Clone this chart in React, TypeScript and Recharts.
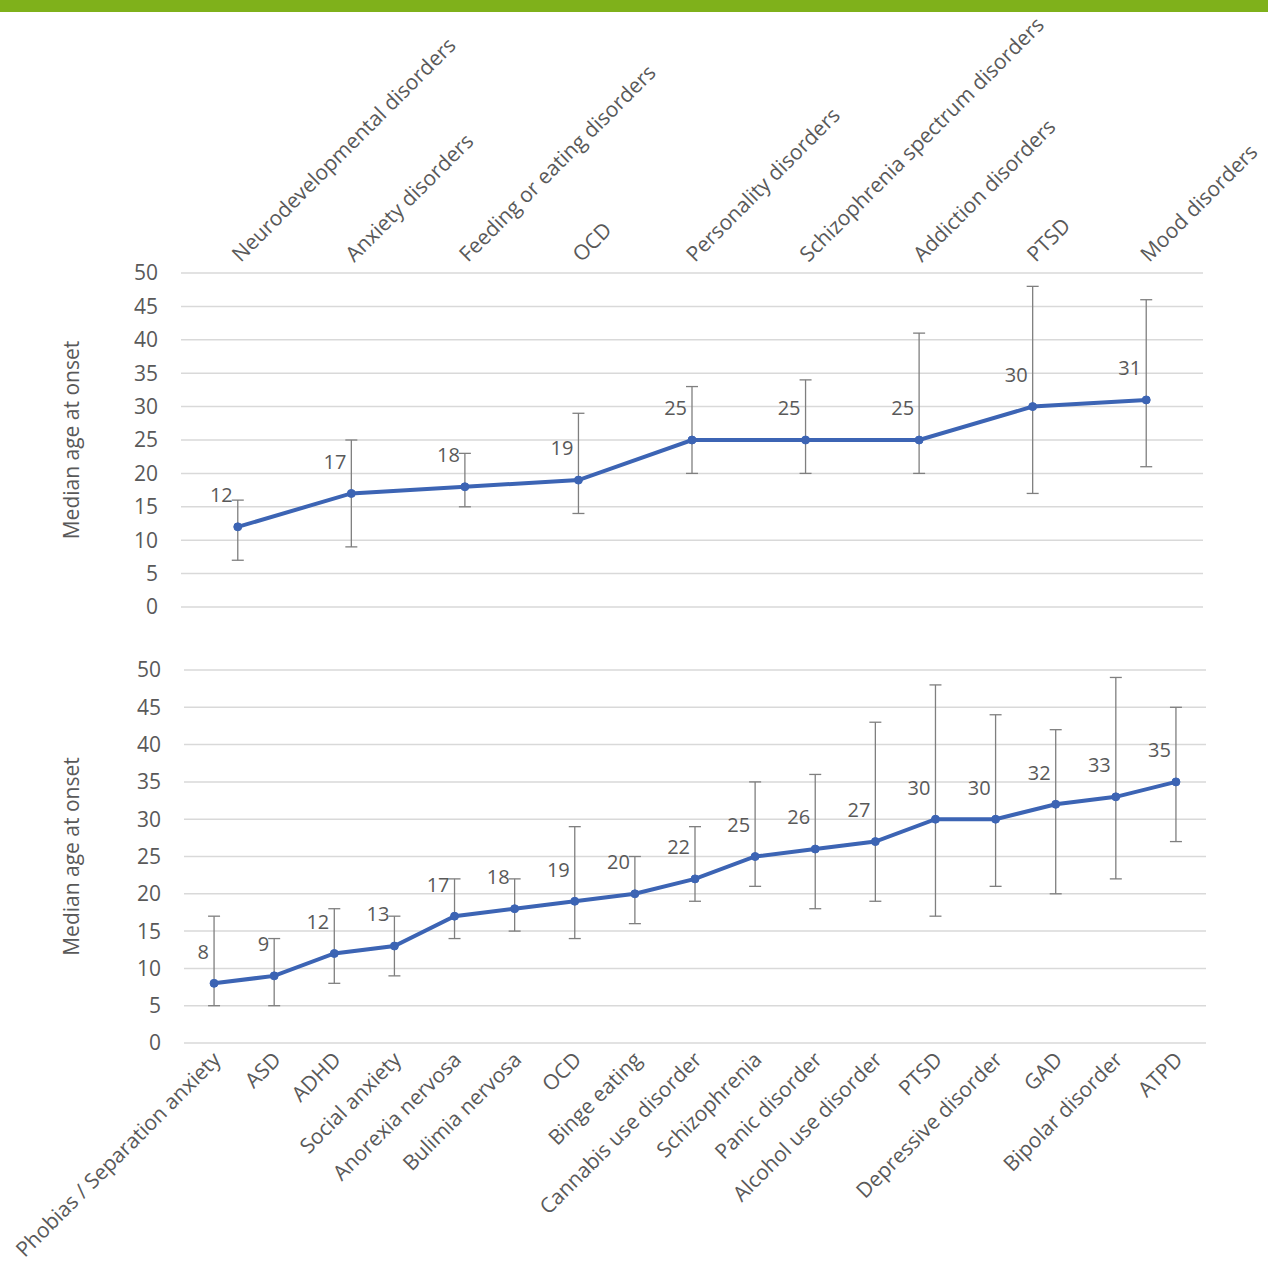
import { LineChart, Line, XAxis, YAxis, CartesianGrid, ErrorBar } from "recharts";

const groupCategories = [
  "Neurodevelopmental disorders",
  "Anxiety disorders",
  "Feeding or eating disorders",
  "OCD",
  "Personality disorders",
  "Schizophrenia spectrum disorders",
  "Addiction disorders",
  "PTSD",
  "Mood disorders",
];
const groupMedian = [12, 17, 18, 19, 25, 25, 25, 30, 31];
const groupLow = [7, 9, 15, 14, 20, 20, 20, 17, 21];
const groupHigh = [16, 25, 23, 29, 33, 34, 41, 48, 46];

const disorderCategories = [
  "Phobias / Separation anxiety",
  "ASD",
  "ADHD",
  "Social anxiety",
  "Anorexia nervosa",
  "Bulimia nervosa",
  "OCD",
  "Binge eating",
  "Cannabis use disorder",
  "Schizophrenia",
  "Panic disorder",
  "Alcohol use disorder",
  "PTSD",
  "Depressive disorder",
  "GAD",
  "Bipolar disorder",
  "ATPD",
];
const disorderMedian = [8, 9, 12, 13, 17, 18, 19, 20, 22, 25, 26, 27, 30, 30, 32, 33, 35];
const disorderLow = [5, 5, 8, 9, 14, 15, 14, 16, 19, 21, 18, 19, 17, 21, 20, 22, 27];
const disorderHigh = [17, 14, 18, 17, 22, 22, 29, 25, 29, 35, 36, 43, 48, 44, 42, 49, 45];

const yTicks = [0, 5, 10, 15, 20, 25, 30, 35, 40, 45, 50];

const FONT = "'Open Sans', sans-serif";
const TEXT = "#595959";
const BLUE = "#3c64b4";
const W = 1268;

function buildRows(cats: string[], med: number[], lo: number[], hi: number[]) {
  return cats.map((name, i) => ({
    name,
    median: med[i],
    err: [med[i] - lo[i], hi[i] - med[i]],
  }));
}

const groupRows = buildRows(groupCategories, groupMedian, groupLow, groupHigh);
const disorderRows = buildRows(disorderCategories, disorderMedian, disorderLow, disorderHigh);

const ValueLabel = (props: any) => {
  const { x, y, value } = props;
  return (
    <text x={x - 5} y={y - 30} textAnchor="end" dominantBaseline="middle" fill={TEXT} fontSize={20} fontFamily={FONT}>
      {value}
    </text>
  );
};

const TopTick = (props: any) => {
  const { x, y, payload } = props;
  const tx = x + 3;
  const ty = y - 10;
  return (
    <text x={tx} y={ty} transform={`rotate(-45, ${tx}, ${ty})`} textAnchor="start" fill={TEXT} fontSize={21} fontFamily={FONT}>
      {payload.value}
    </text>
  );
};

const BottomTick = (props: any) => {
  const { x, y, payload } = props;
  const tx = x + 8;
  const ty = y + 18;
  return (
    <text x={tx} y={ty} transform={`rotate(-45, ${tx}, ${ty})`} textAnchor="end" fill={TEXT} fontSize={21} fontFamily={FONT}>
      {payload.value}
    </text>
  );
};

const AxisTitle = (props: any) => {
  const { viewBox } = props;
  const cx = 73;
  const cy = viewBox.y + viewBox.height / 2;
  return (
    <text x={cx} y={cy} transform={`rotate(-90, ${cx}, ${cy})`} textAnchor="middle" dominantBaseline="middle" fill={TEXT} fontSize={21} fontFamily={FONT}>
      Median age at onset
    </text>
  );
};

function Panel({ rows, top, height, margin, orientation }: any) {
  const plotW = W - margin.left - margin.yw - margin.right;
  const half = plotW / rows.length / 2;
  return (
    <div style={{ position: "absolute", left: 0, top }}>
      <LineChart width={W} height={height} data={rows} margin={{ top: margin.top, right: margin.right, bottom: margin.bottom, left: margin.left }}>
        <CartesianGrid vertical={false} stroke="#d9d9d9" strokeWidth={1.5} />
        <XAxis
          dataKey="name"
          orientation={orientation}
          height={30}
          axisLine={false}
          tickLine={false}
          tickSize={0}
          tickMargin={0}
          interval={0}
          padding={{ left: half, right: half }}
          tick={orientation === "top" ? <TopTick /> : <BottomTick />}
        />
        <YAxis
          width={margin.yw}
          domain={[0, 50]}
          ticks={yTicks}
          interval={0}
          axisLine={false}
          tickLine={false}
          tickSize={0}
          tickMargin={23}
          tick={{ fill: TEXT, fontSize: 21, fontFamily: FONT }}
          label={<AxisTitle />}
        />
        <Line
          type="linear"
          dataKey="median"
          stroke={BLUE}
          strokeWidth={4}
          dot={{ r: 4, fill: BLUE, stroke: BLUE, strokeWidth: 1 }}
          label={<ValueLabel />}
          isAnimationActive={false}
        >
          <ErrorBar dataKey="err" direction="y" width={6} stroke="#7f7f7f" strokeWidth={1.3} />
        </Line>
      </LineChart>
    </div>
  );
}

export default function App() {
  return (
    <div style={{ position: "absolute", left: 0, top: 0, width: W, height: 1281, background: "#fff" }}>
      <div style={{ position: "absolute", left: 0, top: 0, width: W, height: 12, background: "#7fb11b" }} />
      <Panel
        rows={groupRows}
        top={0}
        height={620}
        orientation="top"
        margin={{ top: 243, right: 65, bottom: 13, left: 121, yw: 60 }}
      />
      <Panel
        rows={disorderRows}
        top={620}
        height={661}
        orientation="bottom"
        margin={{ top: 50, right: 62, bottom: 208, left: 124, yw: 60 }}
      />
    </div>
  );
}
